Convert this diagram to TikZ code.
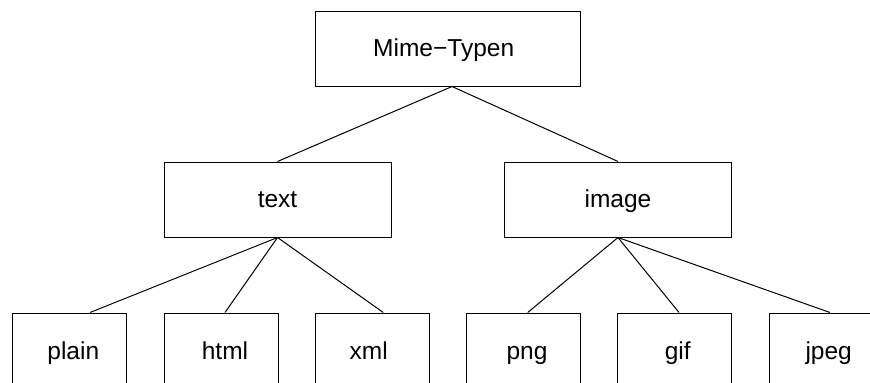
\documentclass[tikz,border=0pt]{standalone}
\usepackage{fontspec}
\setmainfont{Liberation Sans}
\begin{document}
\begin{tikzpicture}[x=1bp,y=-1bp,
  font=\fontsize{24.5bp}{29bp}\selectfont,
  line width=1bp,
  box/.style 2 args={draw, inner sep=0pt, minimum width=#1, minimum height=#2},
  lbl/.style={inner sep=0pt, text height=18bp, text depth=2bp},
  edge/.style={draw, line width=1bp}
]
\path[use as bounding box, clip] (0,0) rectangle (870,382);
\fill[white] (0,0) rectangle (870,382);
% top level
\node[box={265bp}{75bp}, label={[lbl, xshift=-3.8bp]center:Mime−Typen}] (mime) at (447.5,48.5) {};
% middle level
\node[box={227bp}{75bp}, label={[lbl]center:text}] (text) at (277.5,199.5) {};
\node[box={227bp}{75bp}, label={[lbl]center:image}] (image) at (618,199.5) {};
% leaves
\node[box={114bp}{76bp}, label={[lbl, xshift=3.8bp]center:plain}] (plain) at (69.5,351) {};
\node[box={114bp}{76bp}, label={[lbl, xshift=4bp]center:html}] (html) at (221,351) {};
\node[box={114bp}{76bp}, label={[lbl, xshift=-3.6bp]center:xml}] (xml) at (372.3,351) {};
\node[box={114bp}{76bp}, label={[lbl, xshift=3.5bp]center:png}] (png) at (523.5,351) {};
\node[box={114bp}{76bp}, label={[lbl, xshift=3.1bp]center:gif}] (gif) at (674.7,351) {};
\node[box={114bp}{76bp}, label={[lbl, xshift=2.7bp]center:jpeg}] (jpeg) at (826,351) {};
% connectors
\coordinate (mimeS) at ([xshift=4.5bp]mime.south);
\draw[edge] (mimeS) -- (text.north);
\draw[edge] (mimeS) -- (image.north);
\draw[edge] (text.south) -- ([xshift=20.5bp]plain.north);
\draw[edge] (text.south) -- ([xshift=4bp]html.north);
\draw[edge] (text.south) -- ([xshift=11bp]xml.north);
\draw[edge] (image.south) -- ([xshift=4.2bp]png.north);
\draw[edge] (image.south) -- ([xshift=4.3bp]gif.north);
\draw[edge] (image.south) -- ([xshift=4bp]jpeg.north);
\end{tikzpicture}
\end{document}
